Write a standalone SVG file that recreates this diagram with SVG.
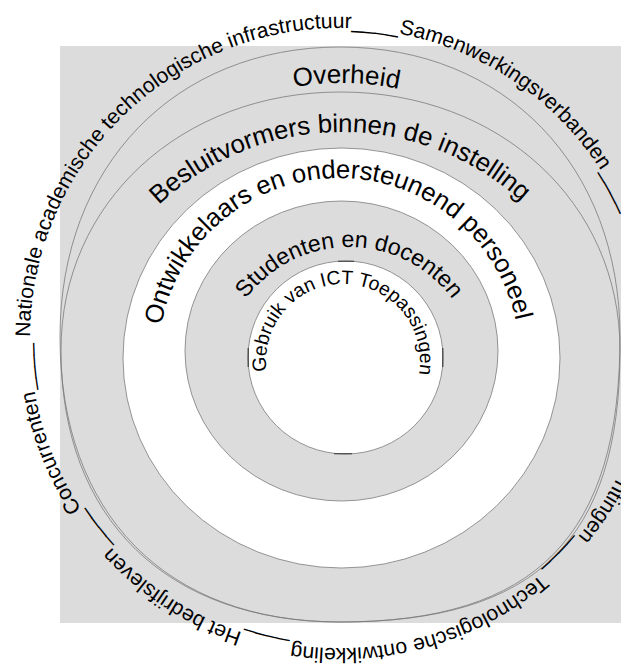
<svg xmlns="http://www.w3.org/2000/svg" width="621" height="668" viewBox="0 0 621 668">
<style>
.ring{stroke:#7a7a7a;stroke-width:0.8}
.g{fill:#dcdcdc}
.w{fill:#ffffff}
.n{fill:none}
.mark{stroke:#333;stroke-width:1.1;fill:none}
text{font-family:"Liberation Sans",Arial,Helvetica,sans-serif;fill:#000}
.o{font-size:21.2px}
</style>
<defs>
<path id="pOuter" d="M30,338 A310,310 0 1,1 650,338 A310,310 0 1,1 30,338"/>
<path id="pOverheid" d="M342,631 A274,274 0 1,1 342,83 A274,274 0 1,1 342,631"/>
<path id="pBesluit" d="M342,664 A266,266 0 1,1 342,132 A266,266 0 1,1 342,664"/>
<path id="pOntw" d="M339,540 A181,181 0 1,1 339,178 A181,181 0 1,1 339,540"/>
<path id="pStud" d="M349,504 A128.5,128.5 0 1,1 349,247 A128.5,128.5 0 1,1 349,504"/>
<path id="pGebr" d="M343,438 A77,77 0 1,1 343,284 A77,77 0 1,1 343,438"/>
</defs>
<rect id="background" x="60" y="46" width="600" height="577" class="g"/>
<g id="overheid">
<path class="ring n" d="M340,47 C505,47 620,166 620,337 C620,536 536,622 340,622 C166,622 60,514 60,337 C60,166 175,47 340,47 Z"/>
<text font-size="26"><textPath href="#pOverheid" startOffset="865" text-anchor="middle">Overheid</textPath></text>
</g>
<g id="besluitvormers">
<path class="ring n" d="M340.5,92 C500,92 620,203 620,350 C620,540 536,622 340.5,622 C167,622 61,519 61,350 C61,203 181,92 340.5,92 Z"/>
<text font-size="25.8"><textPath href="#pBesluit" startOffset="833" text-anchor="middle">Besluitvormers binnen de instelling</textPath></text>
</g>
<g id="ontwikkelaars">
<ellipse class="ring w" cx="341.5" cy="358" rx="218.5" ry="210"/>
<text font-size="25.7"><textPath href="#pOntw" startOffset="566" text-anchor="middle">Ontwikkelaars en ondersteunend personeel</textPath></text>
</g>
<g id="studenten">
<ellipse class="ring g" cx="341.5" cy="351" rx="156.5" ry="150"/>
<text font-size="23.2"><textPath href="#pStud" startOffset="403.7" text-anchor="middle">Studenten en docenten</textPath></text>
</g>
<g id="gebruik">
<ellipse class="ring w" cx="345.5" cy="357.5" rx="97.5" ry="96.5"/>
<path class="mark" d="M338,261.2 L354,261.2 M248.2,348 L248.2,367 M442.8,348 L442.8,367 M334,453.8 L352,453.8"/>
<text font-size="19.4"><textPath href="#pGebr" startOffset="243" text-anchor="middle">Gebruik van ICT Toepassingen</textPath></text>
</g>
<g id="outer-nationale"><text class="o"><textPath href="#pOuter" startOffset="1">Nationale academische technologische infrastructuur</textPath></text></g>
<g id="outer-samenwerking"><text class="o"><textPath href="#pOuter" startOffset="546">Samenwerkingsverbanden</textPath></text></g>
<g id="outer-ntingen"><text class="o"><textPath href="#pOuter" startOffset="1120">ntingen</textPath></text></g>
<g id="outer-technologische"><text class="o"><textPath href="#pOuter" startOffset="1242">Technologische ontwikkeling</textPath></text></g>
<g id="outer-bedrijfsleven"><text class="o"><textPath href="#pOuter" startOffset="1560">Het bedrijfsleven</textPath></text></g>
<g id="outer-concurrenten"><text class="o"><textPath href="#pOuter" startOffset="1766">Concurrenten</textPath></text></g>
<g id="connectors">
<text class="o"><textPath href="#pOuter" startOffset="498.5">____</textPath></text>
<text class="o"><textPath href="#pOuter" startOffset="797">____</textPath></text>
<text class="o"><textPath href="#pOuter" startOffset="1191">____</textPath></text>
<text class="o"><textPath href="#pOuter" startOffset="1512">____</textPath></text>
<text class="o"><textPath href="#pOuter" startOffset="1718">____</textPath></text>
<text class="o"><textPath href="#pOuter" startOffset="1895">____</textPath></text>
</g>
</svg>
